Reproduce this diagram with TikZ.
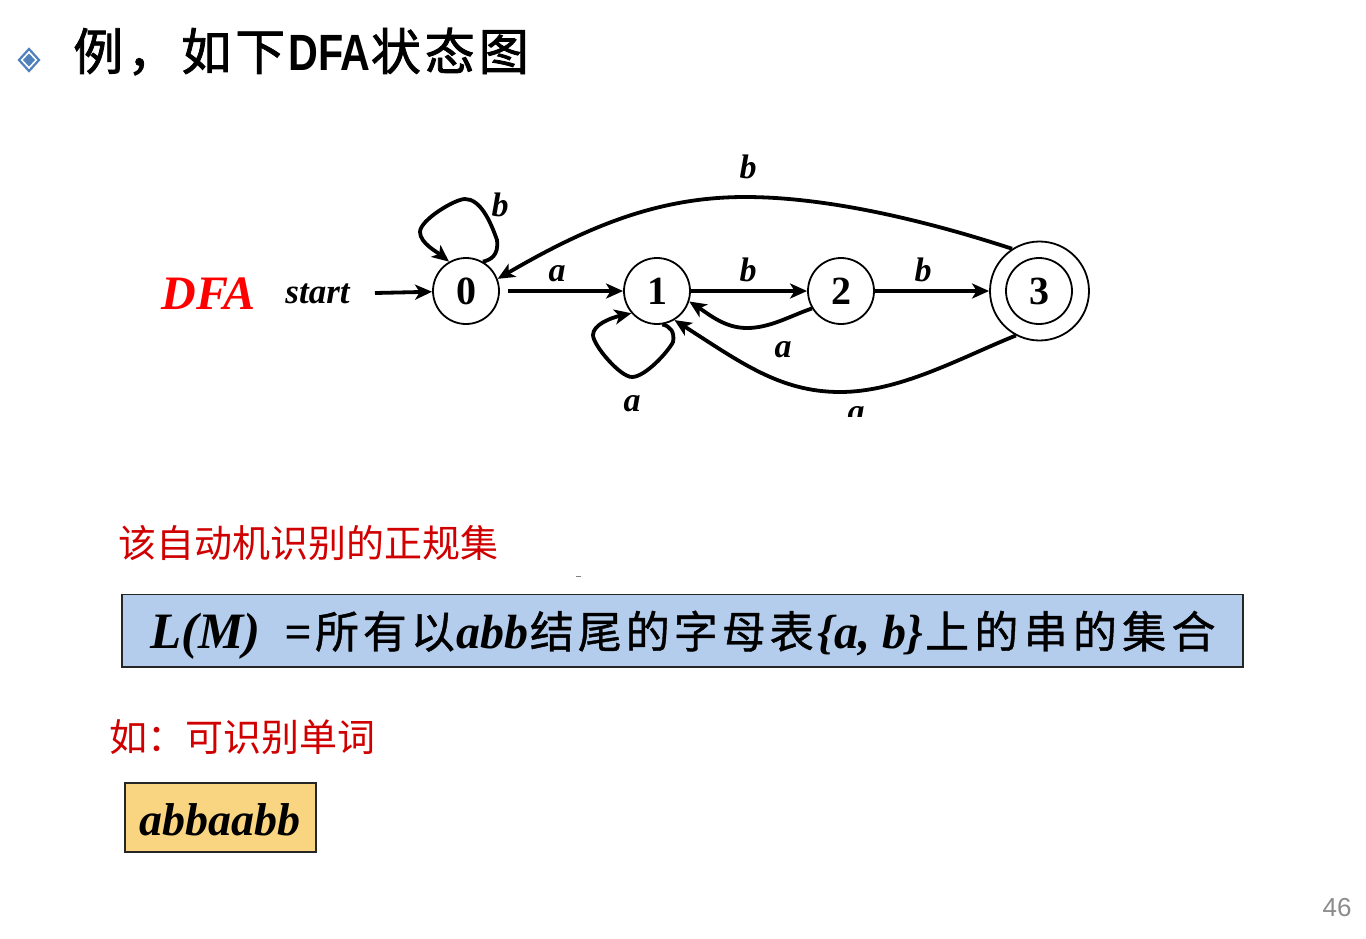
\documentclass[tikz,border=0pt]{standalone}
\usepackage{fontspec}
\setmainfont{Liberation Serif}
\setsansfont{Liberation Sans}
\newfontfamily\cjktitle[LetterSpace=8,FakeBold=1.6]{Noto Sans CJK SC}
\newfontfamily\cjkbox[LetterSpace=9,FakeBold=1]{Noto Sans CJK SC}
\newfontfamily\cjkboxb[LetterSpace=12,FakeBold=1]{Noto Sans CJK SC}
\newfontfamily\cjkred{Noto Sans CJK SC}
\usetikzlibrary{arrows.meta}
\definecolor{redtext}{HTML}{D00000}
\definecolor{bluefill}{HTML}{B4CDEC}
\definecolor{yellowfill}{HTML}{F9D581}
\definecolor{bullet}{HTML}{4F81BD}
\newcommand{\fs}[1]{\fontsize{#1}{#1}\selectfont}
\tikzset{
  state/.style={circle,draw=black,line width=1.8pt,minimum size=66pt,inner sep=0pt,font=\fs{40}\bfseries},
  edge/.style={line width=3.8pt,-{Stealth[length=17pt,width=15pt,inset=4.5pt]}},
  lab/.style={font=\fs{34}\bfseries\itshape,inner sep=0pt},
  redline/.style={anchor=base west,inner sep=0pt,text=redtext,font=\fs{38}\cjkred},
  textbox/.style={draw=black!85,line width=1.8pt,inner sep=0pt,anchor=north west}
}
\begin{document}
\begin{tikzpicture}[x=1pt,y=-1pt]
\useasboundingbox[fill=white] (0,0) rectangle (1366,938);
% bullet
\draw[bullet,line width=2.2pt,fill=white] (29,49) -- (39,60) -- (29,71) -- (19,60) -- cycle;
\fill[bullet] (29,53.5) -- (35,60) -- (29,66.5) -- (23,60) -- cycle;
% title
\node[anchor=base west,inner sep=0pt,font=\fs{50}] (title) at (73,70)
 {\cjktitle 例，如下\hspace{3pt}\scalebox{0.81}[1]{\fontsize{51}{51}\selectfont\sffamily\bfseries DFA}{\cjktitle 状态图}};
% DFA graph
\node[state] (n0) at (466,291) {0};
\node[state] (n1) at (657,291) {1};
\node[state] (n2) at (841,291) {2};
\node[state,minimum size=99pt] (n3) at (1039.5,291) {};
\node[state] (n3i) at (1039,291) {3};
\coordinate (s) at (375,293);
\node[font=\fs{48}\bfseries\itshape,text=red,inner sep=0pt] (dfa) at (208.5,294) {DFA};
\node[font=\fs{35}\bfseries\itshape,inner sep=0pt] (st) at (317.5,294) {start};
\draw[edge] (s) -- (n0);
\draw[edge,shorten <=8pt] (n0) -- (n1);
\draw[edge] (n1) -- (n2);
\draw[edge] (n2) -- (n3);
\draw[edge] (n3.123) .. controls (930,222) and (830,197) .. (745,197)
   .. controls (660,197) and (590,225) .. (n0.21);
\draw[edge] (n3.242) .. controls (960,358) and (900,392) .. (840,392)
   .. controls (780,392) and (740,362) .. (n1.301);
\draw[edge] (n2.211) .. controls (790,316) and (770,328) .. (747,328)
   .. controls (725,328) and (710,315) .. (n1.342);
\draw[edge] (n0.60) .. controls (490,260) and (499,256) .. (497,240)
   .. controls (490,220) and (480,199) .. (465,199)
   .. controls (455,199) and (420,220) .. (420,232)
   .. controls (420,243) and (437,252) .. (n0.120);
\draw[edge] (n1.279) .. controls (670,326) and (675,332) .. (673,342)
   .. controls (668,352) and (645,377) .. (632,377)
   .. controls (620,377) and (593,345) .. (593,335)
   .. controls (593,325) and (610,318) .. (n1.221);
\node[lab] (l1) at (557,274) {a};
\node[lab] (l2) at (748,167) {b};
\node[lab] (l3) at (500,205) {b};
\node[lab] (l4) at (748,270) {b};
\node[lab] (l5) at (923,270) {b};
\node[lab] (l6) at (783,350) {a};
\node[lab] (l7) at (632,404) {a};
\begin{scope}
\clip (830,395) rectangle (880,416);
\node[lab] (l8) at (856,415) {a};
\end{scope}
% red text
\node[redline] (r1) at (118,557) {该自动机识别的正规集};
\draw[gray,line width=0.8pt] (576,576) -- (581,576);
\node[redline] (r2) at (109.5,751) {如：可识别单词};
% blue box
\draw[textbox,fill=bluefill] (122,594.5) rectangle (1243,667);
\node[anchor=base west,inner sep=0pt,font=\fs{48}\bfseries\itshape] (lm) at (150,648)
 {{\fontsize{51}{51}\selectfont\bfseries\itshape L(M)}\hspace{24pt}=\hspace{3pt}{\upshape\mdseries\fs{44}\cjkbox 所有以}\hspace{2pt}abb\hspace{1pt}{\upshape\mdseries\fs{44}\cjkbox 结尾的字母表}\hspace{4pt}\{a, b\}\hspace{2pt}{\upshape\mdseries\fs{44}\cjkboxb 上的串的集合}};
% yellow box
\draw[textbox,fill=yellowfill] (125,783) rectangle (316,852);
\node[font=\fs{46}\bfseries\itshape,inner sep=0pt] (ab) at (220,820) {abbaabb};
% page number
\node[font=\fs{26}\sffamily,text=black!45,inner sep=0pt] (pg) at (1337,908) {46};
\end{tikzpicture}
\end{document}
